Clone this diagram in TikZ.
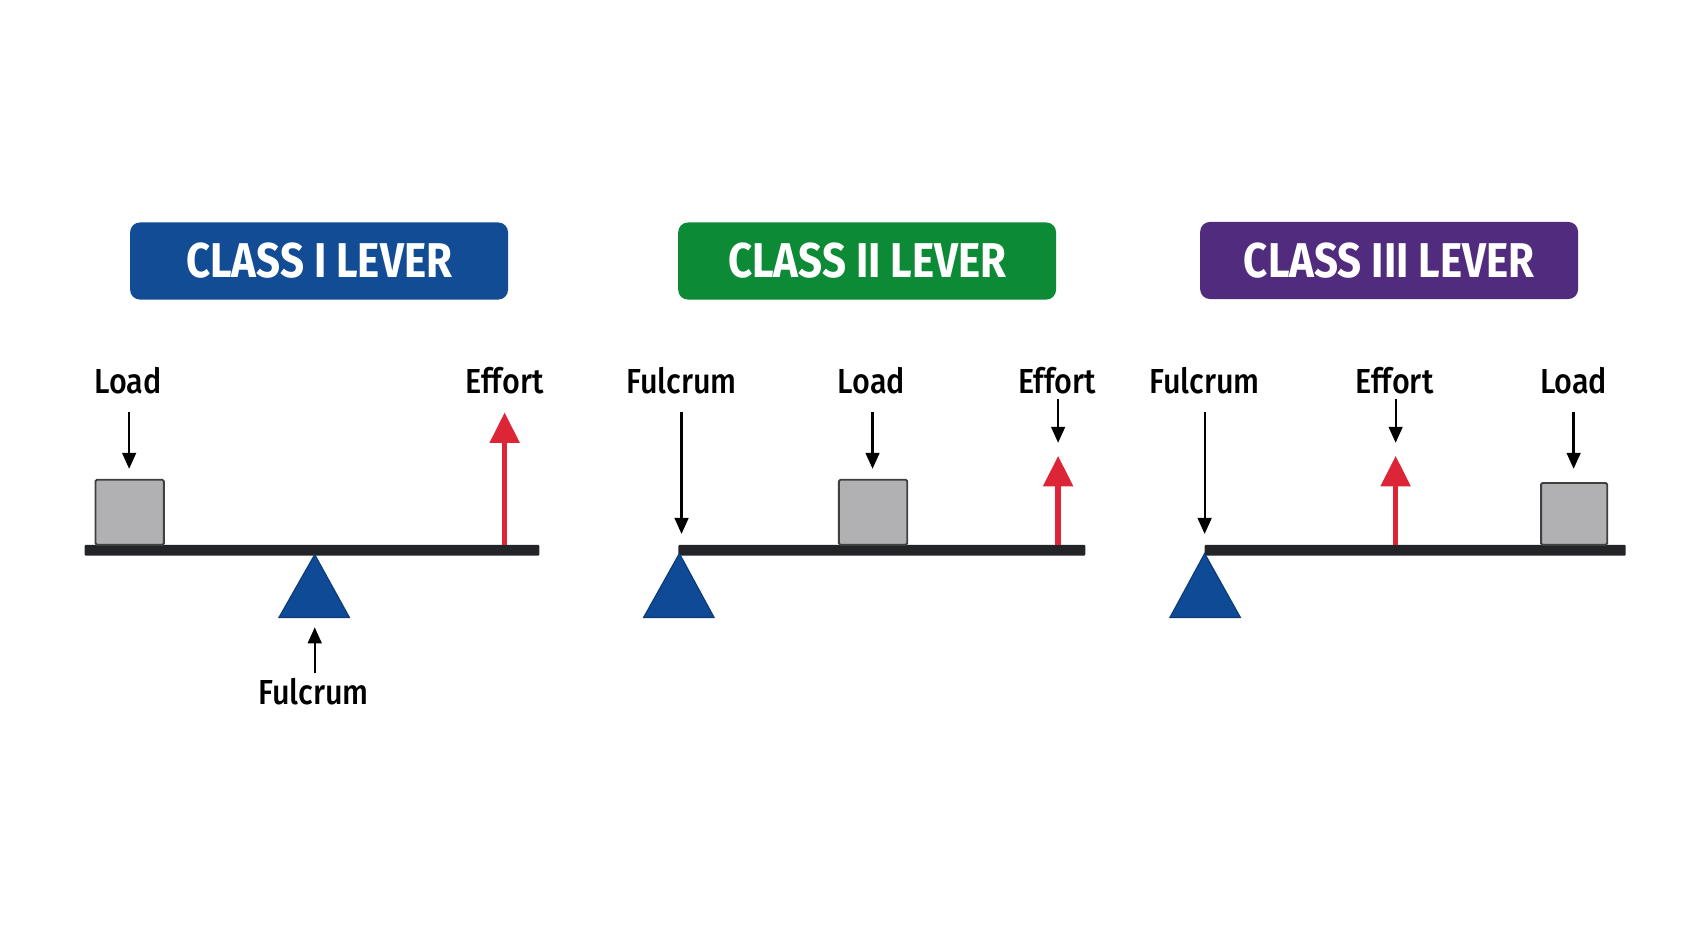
\documentclass[tikz,border=0pt]{standalone}
\usepackage{fontspec}
\setmainfont{Fira Sans}
\newfontfamily\titlefont{Fira Sans}[FakeStretch=0.86]
\newfontfamily\labelfont{Fira Sans Medium}[FakeStretch=0.88]
\usetikzlibrary{arrows.meta}
\definecolor{cblue}{HTML}{114C94}
\definecolor{cgreen}{HTML}{0C8A35}
\definecolor{cpurple}{HTML}{512C7E}
\definecolor{cred}{HTML}{DC2536}
\definecolor{cgray}{HTML}{B1B1B3}
\definecolor{cbeam}{HTML}{222428}
\definecolor{ctri}{HTML}{0F4A96}
\tikzset{
  titlebox/.style={rounded corners=0.09cm, minimum width=3.48cm, minimum height=0.71cm, inner sep=0pt,
    text=white, font=\titlefont\bfseries\fontsize{12.8}{14}\selectfont},
  lbl/.style={anchor=base, inner sep=0pt, font=\labelfont\fontsize{9.1}{11}\selectfont},
  blk/.style={draw=black, line width=0.6pt, -{Triangle[length=4.2pt, width=3.6pt]}},
  effort/.style={draw=cred, line width=1.4pt, -{Triangle[length=8pt, width=7.6pt]}},
  beam/.style={fill=cbeam, rounded corners=0.3pt},
  loadbox/.style={fill=cgray, draw=black!75, line width=0.5pt, rounded corners=0.4pt},
  fulc/.style={fill=ctri, draw=ctri!80!black, line width=0.3pt},
}
\begin{document}
\begin{tikzpicture}[x=0.01cm,y=-0.01cm]
\useasboundingbox (0,0) rectangle (1560,856);
\fill[white] (0,0) rectangle (1560,856);

% titles
\node[titlebox, fill=cblue] (t1) at (294,240.5) {CLASS I LEVER};
\node[titlebox, fill=cgreen] (t2) at (799,240.5) {CLASS II LEVER};
\node[titlebox, fill=cpurple] (t3) at (1280,240) {CLASS III LEVER};

% ---- Class I ----
\fill[beam] (78,502) rectangle (497,512);
\draw[fulc] (290,511) -- (322,569) -- (257,569) -- cycle;
\draw[loadbox] (88,442) rectangle (151,502);
\node[lbl] (l1) at (118,363) {Load};
\node[lbl] (e1) at (465,363) {Effort};
\node[lbl] (f1) at (289,649) {Fulcrum};
\coordinate (l1t) at (119,432);
\coordinate (l1s) at (119,380);
\draw[blk] (l1s) -- (l1t);
\coordinate (e1s) at (465,502);
\coordinate (e1t) at (465,380);
\draw[effort] (e1s) -- (e1t);
\coordinate (f1s) at (290,620);
\coordinate (f1t) at (290,578);
\draw[blk] (f1s) -- (f1t);

% ---- Class II ----
\fill[beam] (625,502) rectangle (1000,512);
\draw[fulc] (626,510) -- (658,569) -- (593,569) -- cycle;
\draw[loadbox] (773,442) rectangle (836,502);
\node[lbl] (f2) at (628,363) {Fulcrum};
\node[lbl] (l2) at (803,363) {Load};
\node[lbl] (e2) at (974,363) {Effort};
\coordinate (f2s) at (628,380);
\coordinate (f2t) at (628,492);
\draw[blk] (f2s) -- (f2t);
\coordinate (l2s) at (804,380);
\coordinate (l2t) at (804,432);
\draw[blk] (l2s) -- (l2t);
\coordinate (e2s) at (975,368);
\coordinate (e2t) at (975,408);
\draw[blk] (e2s) -- (e2t);
\coordinate (r2s) at (975,502);
\coordinate (r2t) at (975,420);
\draw[effort] (r2s) -- (r2t);

% ---- Class III ----
\fill[beam] (1110,502) rectangle (1498,512);
\draw[fulc] (1110,510) -- (1143,569) -- (1078,569) -- cycle;
\draw[loadbox] (1420,445) rectangle (1481,502);
\node[lbl] (f3) at (1110,363) {Fulcrum};
\node[lbl] (e3) at (1285,363) {Effort};
\node[lbl] (l3) at (1450,363) {Load};
\coordinate (f3s) at (1110,380);
\coordinate (f3t) at (1110,492);
\draw[blk] (f3s) -- (f3t);
\coordinate (e3s) at (1286,368);
\coordinate (e3t) at (1286,408);
\draw[blk] (e3s) -- (e3t);
\coordinate (r3s) at (1286,502);
\coordinate (r3t) at (1286,420);
\draw[effort] (r3s) -- (r3t);
\coordinate (l3s) at (1450,380);
\coordinate (l3t) at (1450,432);
\draw[blk] (l3s) -- (l3t);
\end{tikzpicture}
\end{document}
